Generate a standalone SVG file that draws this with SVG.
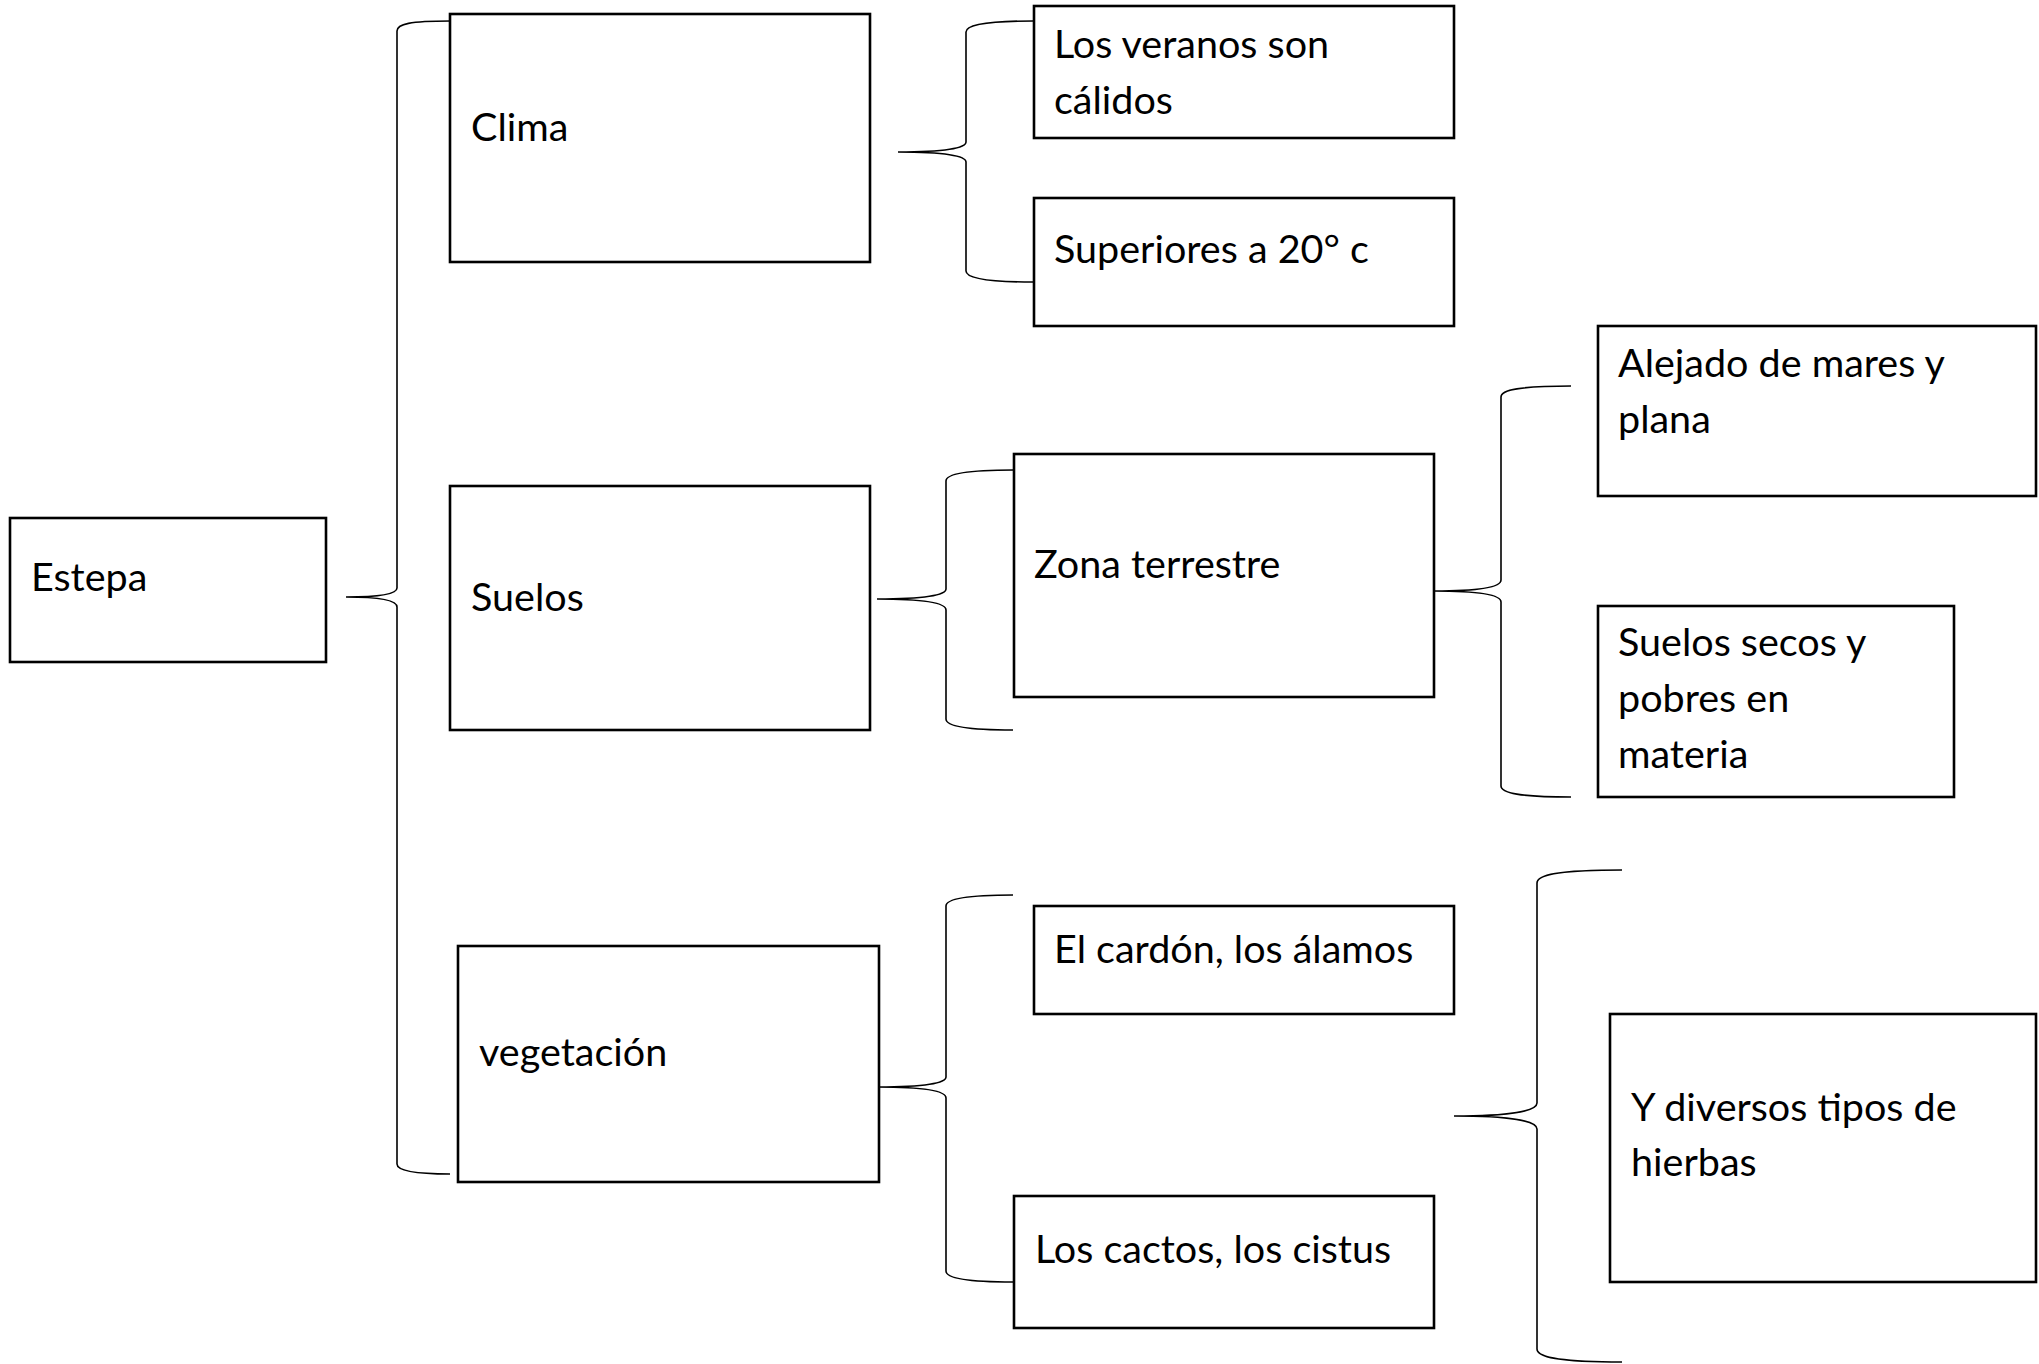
<svg xmlns="http://www.w3.org/2000/svg" width="2039" height="1364" viewBox="0 0 2039 1364">
<style>
.box{fill:#fff;stroke:#000;stroke-width:2.6}
.br{fill:none;stroke:#000;stroke-width:1.6}
text{font-family:Lato,"Open Sans","Liberation Sans",sans-serif;font-size:39.5px;fill:#000}
</style>
<rect width="2039" height="1364" fill="#fff"/>
<g id="connectors">
<path class="br" d="M450,21 C410,21 397,24 397,31 L397,588 C397,594 380,597 346,597 C380,597 397,600 397,607 L397,1164 C397,1170 410,1174 450,1174"/>
<path class="br" d="M1033,21 C985,21 966,25 966,32 L966,142 C966,148 945,152 898,152 C945,152 966,156 966,162 L966,271 C966,278 985,282 1033,282"/>
<path class="br" d="M1013,470 C965,470 946,474 946,481 L946,589 C946,595 925,599 877,599 C925,599 946,603 946,610 L946,719 C946,726 965,730 1013,730"/>
<path class="br" d="M1571,386 C1520,386 1501,390 1501,397 L1501,580 C1501,587 1480,591 1434,591 C1480,591 1501,595 1501,602 L1501,786 C1501,793 1520,797 1571,797"/>
<path class="br" d="M1013,895 C965,895 946,899 946,906 L946,1077 C946,1083 925,1087 878,1087 C925,1087 946,1091 946,1098 L946,1271 C946,1278 965,1282 1013,1282"/>
<path class="br" d="M1622,870 C1557,870 1537,875 1537,883 L1537,1103 C1537,1111 1510,1116 1454,1116 C1510,1116 1537,1121 1537,1129 L1537,1349 C1537,1357 1557,1362 1622,1362"/>
</g>
<g id="estepa"><rect class="box" x="10" y="518" width="316" height="144"/><text x="31" y="591">Estepa</text></g>
<g id="clima"><rect class="box" x="450" y="14" width="420" height="248"/><text x="471" y="141">Clima</text></g>
<g id="suelos"><rect class="box" x="450" y="486" width="420" height="244"/><text x="471" y="611">Suelos</text></g>
<g id="vegetacion"><rect class="box" x="458" y="946" width="421" height="236"/><text x="479" y="1066">vegetación</text></g>
<g id="veranos"><rect class="box" x="1034" y="6" width="420" height="132"/><text x="1054" y="58">Los veranos son</text><text x="1054" y="114">cálidos</text></g>
<g id="superiores"><rect class="box" x="1034" y="198" width="420" height="128"/><text x="1054" y="263">Superiores a 20° c</text></g>
<g id="zona"><rect class="box" x="1014" y="454" width="420" height="243"/><text x="1034" y="578">Zona terrestre</text></g>
<g id="alejado"><rect class="box" x="1598" y="326" width="438" height="170"/><text x="1618" y="377">Alejado de mares y</text><text x="1618" y="433">plana</text></g>
<g id="suelossecos"><rect class="box" x="1598" y="606" width="356" height="191"/><text x="1618" y="656">Suelos secos y</text><text x="1618" y="712">pobres en</text><text x="1618" y="768">materia</text></g>
<g id="cardon"><rect class="box" x="1034" y="906" width="420" height="108"/><text x="1054" y="963">El cardón, los álamos</text></g>
<g id="cactos"><rect class="box" x="1014" y="1196" width="420" height="132"/><text x="1035" y="1263">Los cactos, los cistus</text></g>
<g id="hierbas"><rect class="box" x="1610" y="1014" width="426" height="268"/><text x="1631" y="1121">Y diversos tipos de</text><text x="1631" y="1176">hierbas</text></g>
</svg>
